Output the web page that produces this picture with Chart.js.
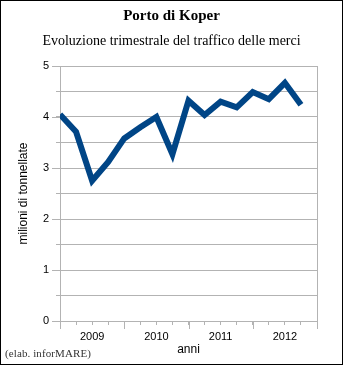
<!DOCTYPE html>
<html>
<head>
<meta charset="utf-8">
<script src="https://cdn.jsdelivr.net/npm/chart.js@4"></script>
<style>
  body { margin: 0; background: #fff; }
  #frame { position: relative; width: 343px; height: 365px; box-sizing: border-box; border: 1px solid #000; }
  #wrap { position: absolute; left: 0; top: 0; width: 341px; height: 363px; }
  #note { position: absolute; left: 4px; top: 347px; font: 11px "Liberation Serif", serif; line-height: 1; color: #333; letter-spacing: 0.1px; }
</style>
</head>
<body>
<div id="frame">
  <div id="wrap"><canvas id="chart"></canvas></div>
  <div id="note">(elab. inforMARE)</div>
</div>
<script>
// trimestri 2009-2012, milioni di tonnellate
var quarters = ['2009 T1','2009 T2','2009 T3','2009 T4','2010 T1','2010 T2','2010 T3','2010 T4',
                '2011 T1','2011 T2','2011 T3','2011 T4','2012 T1','2012 T2','2012 T3','2012 T4'];
var traffic = [4.05, 3.71, 2.75, 3.12, 3.58, 3.80, 4.00, 3.27,
               4.32, 4.04, 4.30, 4.19, 4.49, 4.35, 4.67, 4.24];
var years = ['2009', '2010', '2011', '2012'];

var gridGray = '#b3b3b3';

// longer tick marks at year boundaries and integer values
var majorTicks = {
  id: 'majorTicks',
  beforeDatasetsDraw: function(chart) {
    var ctx = chart.ctx, xs = chart.scales.x, ys = chart.scales.y;
    ctx.save();
    ctx.strokeStyle = gridGray;
    ctx.lineWidth = 1;
    ctx.beginPath();
    for (var i = 0; i <= years.length; i++) {
      var px = Math.round(xs.getPixelForValue(i * 4)) + 0.5;
      ctx.moveTo(px, xs.top);
      ctx.lineTo(px, xs.top + 8);
    }
    for (var v = 0; v <= 5; v++) {
      var py = Math.round(ys.getPixelForValue(v)) + 0.5;
      ctx.moveTo(ys.right - 8, py);
      ctx.lineTo(ys.right, py);
    }
    ctx.stroke();
    ctx.restore();
  }
};

var ctx = document.getElementById('chart').getContext('2d');
var myChart = new Chart(ctx, {
  type: 'line',
  data: {
    datasets: [{
      label: 'traffico',
      data: traffic.map(function(v, i) { return { x: i, y: v }; }),
      borderColor: '#004586',
      borderWidth: 6,
      borderCapStyle: 'butt',
      borderJoinStyle: 'miter',
      pointRadius: 0,
      tension: 0,
      fill: false
    }]
  },
  options: {
    responsive: true,
    maintainAspectRatio: false,
    animation: false,
    layout: { padding: 0 },
    plugins: {
      legend: { display: false },
      tooltip: { enabled: false },
      title: {
        display: true,
        text: 'Porto di Koper',
        color: '#000',
        font: { family: '"Liberation Serif", serif', size: 15, weight: 'bold', lineHeight: 1.2 },
        padding: { top: 6, bottom: 4 }
      },
      subtitle: {
        display: true,
        text: 'Evoluzione trimestrale del traffico delle merci',
        color: '#000',
        font: { family: '"Liberation Serif", serif', size: 14, lineHeight: 1.2 },
        padding: { top: 4, bottom: 16.2 }
      }
    },
    scales: {
      x: {
        type: 'linear',
        min: 0,
        max: 16,
        afterFit: function(scale) { scale.height = 43; },
        ticks: {
          stepSize: 1,
          autoSkip: false,
          maxRotation: 0,
          padding: 5,
          color: '#000',
          font: { family: '"Liberation Sans", Arial, sans-serif', size: 11 },
          callback: function(v) { return v % 4 === 2 ? years[(v - 2) / 4] : ''; }
        },
        grid: {
          drawOnChartArea: true,
          color: function(c) { return c.tick && c.tick.value === 16 ? gridGray : 'rgba(0,0,0,0)'; },
          tickColor: gridGray,
          tickLength: 4
        },
        border: { display: true, color: gridGray },
        title: {
          display: true,
          text: 'anni',
          color: '#000',
          font: { family: '"Liberation Sans", Arial, sans-serif', size: 12 },
          padding: { top: 0, bottom: 7 }
        }
      },
      y: {
        min: 0,
        max: 5,
        afterFit: function(scale) { scale.width = 59; },
        ticks: {
          stepSize: 0.5,
          padding: 7,
          color: '#000',
          font: { family: '"Liberation Sans", Arial, sans-serif', size: 11 },
          callback: function(v) { return v % 1 === 0 ? v : ''; }
        },
        grid: { color: gridGray, tickColor: gridGray, tickLength: 4 },
        border: { display: true, color: gridGray },
        title: {
          display: true,
          text: 'milioni di tonnellate',
          color: '#000',
          font: { family: '"Liberation Sans", Arial, sans-serif', size: 12 },
          padding: { top: 15, bottom: 0 }
        }
      },
      // empty right-hand axis: keeps the white margin right of the plot
      yRight: {
        position: 'right',
        min: 0,
        max: 5,
        afterFit: function(scale) { scale.width = 25; },
        ticks: { display: false },
        grid: { drawOnChartArea: false, drawTicks: false },
        border: { display: false }
      }
    }
  },
  plugins: [majorTicks]
});
</script>
</body>
</html>
